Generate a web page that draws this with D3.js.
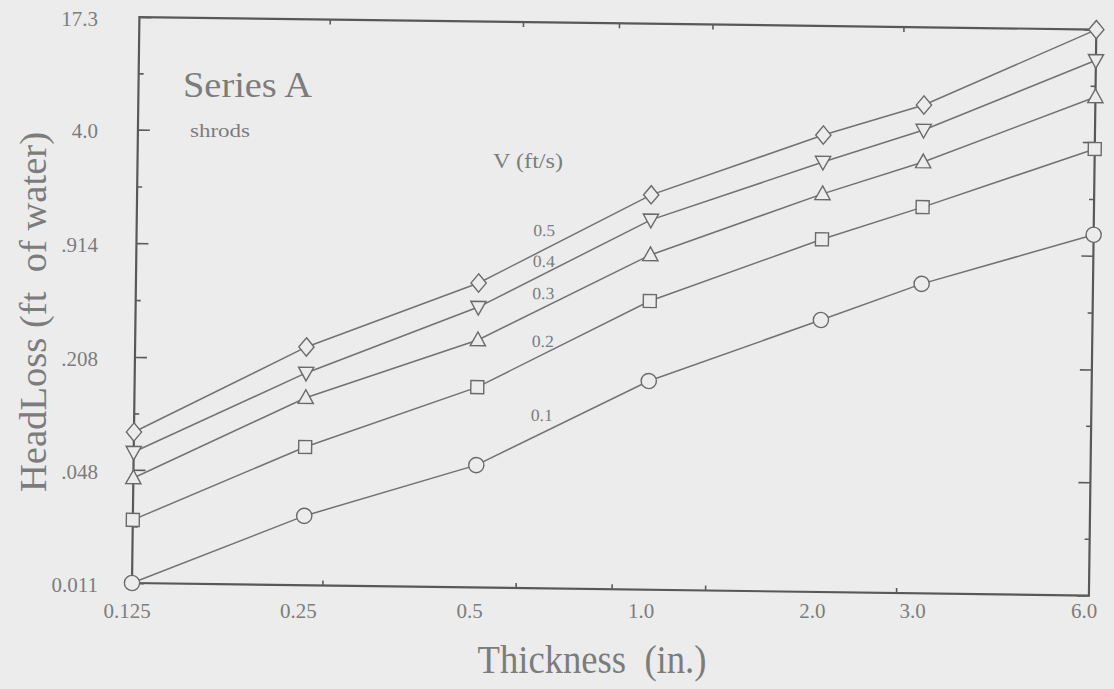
<!DOCTYPE html>
<html>
<head>
<meta charset="utf-8">
<script src="https://cdn.jsdelivr.net/npm/d3@7"></script>
<style>
  html, body { margin: 0; padding: 0; background: #ececec; }
  svg { display: block; }
  text { font-family: "Liberation Serif", "DejaVu Serif", serif; fill: #7c7c7c; white-space: pre; }
</style>
</head>
<body>
<div id="chart"></div>
<script>
// thickness (in.) on x, head loss (ft of water) on y, one series per velocity
const thickness = [0.125, 0.25, 0.5, 1.0, 2.0, 3.0, 6.0];
const thicknessLabels = ["0.125", "0.25", "0.5", "1.0", "2.0", "3.0", "6.0"];
const velocities = ["0.1", "0.2", "0.3", "0.4", "0.5"];

const loss01 = [0.011, 0.0271, 0.054, 0.166, 0.378, 0.615, 1.20];
const loss02 = [0.025, 0.0664, 0.149, 0.47, 1.08, 1.67, 3.66];
const loss03 = [0.0431, 0.126, 0.275, 0.856, 1.95, 3.0, 7.2];
const loss04 = [0.0604, 0.174, 0.422, 1.35, 2.95, 4.55, 11.6];
const loss05 = [0.0784, 0.244, 0.577, 1.87, 4.19, 6.30, 17.3];

const yTicks = [0.011, 0.048, 0.208, 0.914, 4.0, 17.3];
const yTickLabels = ["0.011", ".048", ".208", ".914", "4.0", "17.3"];
const yMinorTicks = [0.023, 0.0999, 0.436, 1.91, 8.32];
const xMinorTicks = [0.27, 0.59, 0.87, 1.27, 2.75];

// where the little velocity labels sit (thickness, head loss)
const labelThickness = 0.65;
const labelLoss = [0.102, 0.267, 0.498, 0.756, 1.13];

const series = [loss01, loss02, loss03, loss04, loss05];

const width = 1114, height = 689;
const margin = {top: 17, left: 132, right: 25, bottom: 106};
const tilt = 0.75; // the scan is a bit crooked

const svg = d3.select("#chart").append("svg")
  .attr("width", width)
  .attr("height", height);

svg.append("rect").attr("width", width).attr("height", height).attr("fill", "#ececec");

const x = d3.scaleLog().base(2)
  .domain([0.125, 6.0])
  .range([margin.left, width - margin.right]);
const y = d3.scaleLog()
  .domain([0.011, 17.3])
  .range([height - margin.bottom, margin.top]);

const plot = svg.append("g")
  .attr("transform", "rotate(" + tilt + "," + margin.left + "," + (height - margin.bottom) + ")");

// frame
plot.append("rect")
  .attr("x", margin.left)
  .attr("y", margin.top)
  .attr("width", x.range()[1] - x.range()[0])
  .attr("height", y.range()[0] - y.range()[1])
  .attr("fill", "none")
  .attr("stroke", "#585858")
  .attr("stroke-width", 2.2);

function tickAxis(axis, tr, size) {
  plot.append("g")
    .attr("transform", tr)
    .call(axis.tickSizeInner(size).tickSizeOuter(0).tickFormat(""))
    .call(g => g.select(".domain").remove())
    .call(g => g.selectAll("line").attr("stroke", "#5c5c5c").attr("stroke-width", 1.6));
}

tickAxis(d3.axisLeft(y).tickValues(yTicks), "translate(" + margin.left + ",0)", -12);
tickAxis(d3.axisLeft(y).tickValues(yMinorTicks), "translate(" + margin.left + ",0)", -5);
tickAxis(d3.axisRight(y).tickValues(yTicks), "translate(" + x.range()[1] + ",0)", -12);
tickAxis(d3.axisRight(y).tickValues(yMinorTicks), "translate(" + x.range()[1] + ",0)", -5);
tickAxis(d3.axisBottom(x).tickValues(xMinorTicks), "translate(0," + y.range()[0] + ")", -5);
tickAxis(d3.axisTop(x).tickValues(xMinorTicks), "translate(0," + y.range()[1] + ")", -5);

// marker shapes
const shapes = [
  { draw(ctx, s) { const r = Math.sqrt(s); ctx.moveTo(r, 0); ctx.arc(0, 0, r, 0, 2 * Math.PI); } },
  { draw(ctx, s) { const r = Math.sqrt(s); ctx.rect(-r, -r, 2 * r, 2 * r); } },
  { draw(ctx, s) { const r = Math.sqrt(s); ctx.moveTo(0, -r * 1.05); ctx.lineTo(r, r * 0.75); ctx.lineTo(-r, r * 0.75); ctx.closePath(); } },
  { draw(ctx, s) { const r = Math.sqrt(s); ctx.moveTo(0, r * 1.05); ctx.lineTo(r, -r * 0.75); ctx.lineTo(-r, -r * 0.75); ctx.closePath(); } },
  { draw(ctx, s) { const r = Math.sqrt(s); ctx.moveTo(0, -r * 1.2); ctx.lineTo(r, 0); ctx.lineTo(0, r * 1.2); ctx.lineTo(-r, 0); ctx.closePath(); } }
];

const line = d3.line()
  .x((d, i) => x(thickness[i]))
  .y(d => y(d));

series.forEach((vals, k) => {
  plot.append("path")
    .datum(vals)
    .attr("d", line)
    .attr("fill", "none")
    .attr("stroke", "#727272")
    .attr("stroke-width", 1.5);

  plot.selectAll(".m" + k)
    .data(vals)
    .join("path")
      .attr("class", "m" + k)
      .attr("transform", (d, i) => "translate(" + x(thickness[i]) + "," + y(d) + ")")
      .attr("d", d3.symbol().type(shapes[k]).size(k === 1 ? 42 : 58))
      .attr("fill", "#ececec")
      .attr("stroke", "#6a6a6a")
      .attr("stroke-width", 1.4);
});

// velocity labels
plot.selectAll(".vlab")
  .data(velocities)
  .join("text")
    .attr("class", "vlab")
    .attr("x", x(labelThickness))
    .attr("y", (d, i) => y(labelLoss[i]))
    .attr("text-anchor", "middle")
    .attr("dominant-baseline", "middle")
    .attr("font-size", 17)
    .attr("textLength", 22)
    .attr("lengthAdjust", "spacingAndGlyphs")
    .text(d => d);

// tick labels (the scan's labels are not tilted)
svg.selectAll(".ylab")
  .data(yTicks)
  .join("text")
    .attr("class", "ylab")
    .attr("x", 98)
    .attr("y", d => y(d) + 4)
    .attr("text-anchor", "end")
    .attr("dominant-baseline", "middle")
    .attr("font-size", 21)
    .text((d, i) => yTickLabels[i]);

svg.selectAll(".xlab")
  .data(thickness)
  .join("text")
    .attr("class", "xlab")
    .attr("x", d => x(d) - 5)
    .attr("y", 613)
    .attr("text-anchor", "middle")
    .attr("dominant-baseline", "middle")
    .attr("font-size", 21)
    .text((d, i) => thicknessLabels[i]);

// titles
svg.append("text")
  .attr("x", 592)
  .attr("y", 673)
  .attr("text-anchor", "middle")
  .attr("font-size", 40)
  .attr("textLength", 229)
  .attr("lengthAdjust", "spacingAndGlyphs")
  .text("Thickness  (in.)");

svg.append("text")
  .attr("transform", "translate(46,312) rotate(-90)")
  .attr("text-anchor", "middle")
  .attr("font-size", 38)
  .attr("textLength", 360)
  .attr("lengthAdjust", "spacingAndGlyphs")
  .text("HeadLoss (ft  of water)");

svg.append("text")
  .attr("x", 183)
  .attr("y", 97)
  .attr("font-size", 36)
  .attr("textLength", 129)
  .attr("lengthAdjust", "spacingAndGlyphs")
  .text("Series A");

svg.append("text")
  .attr("x", 190)
  .attr("y", 137)
  .attr("font-size", 19)
  .attr("textLength", 60)
  .attr("lengthAdjust", "spacingAndGlyphs")
  .text("shrods");

svg.append("text")
  .attr("x", 493)
  .attr("y", 168)
  .attr("font-size", 20)
  .attr("textLength", 70)
  .attr("lengthAdjust", "spacingAndGlyphs")
  .text("V (ft/s)");
</script>
</body>
</html>
